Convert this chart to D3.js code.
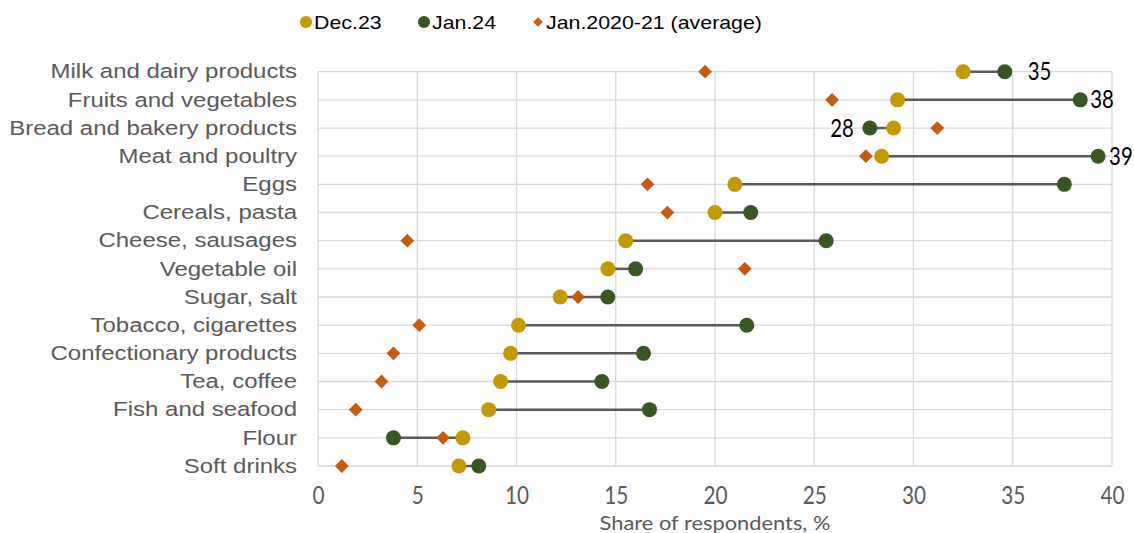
<!DOCTYPE html>
<html>
<head>
<meta charset="utf-8">
<script src="https://cdn.jsdelivr.net/npm/d3@7"></script>
<style>
  body { margin: 0; background: #fff; }
  svg { display: block; }
</style>
</head>
<body>
<div id="chartDiv"></div>
<script>
// categories top to bottom
const categories = ["Milk and dairy products", "Fruits and vegetables", "Bread and bakery products",
  "Meat and poultry", "Eggs", "Cereals, pasta", "Cheese, sausages", "Vegetable oil", "Sugar, salt",
  "Tobacco, cigarettes", "Confectionary products", "Tea, coffee", "Fish and seafood", "Flour", "Soft drinks"];
const dec23 = [32.5, 29.2, 29.0, 28.4, 21.0, 20.0, 15.5, 14.6, 12.2, 10.1, 9.7, 9.2, 8.6, 7.3, 7.1];
const jan24 = [34.6, 38.4, 27.8, 39.3, 37.6, 21.8, 25.6, 16.0, 14.6, 21.6, 16.4, 14.3, 16.7, 3.8, 8.1];
const avg2021 = [19.5, 25.9, 31.2, 27.6, 16.6, 17.6, 4.5, 21.5, 13.1, 5.1, 3.8, 3.2, 1.9, 6.3, 1.2];
// labels shown next to some Jan.24 points: [index, text]
const valueLabels = [[0, "35"], [1, "38"], [2, "28"], [3, "39"]];
const xTicks = [0, 5, 10, 15, 20, 25, 30, 35, 40];
const seriesNames = ["Dec.23", "Jan.24", "Jan.2020-21 (average)"];

const clrDec = "#C49800", clrJan = "#375623", clrAvg = "#C55A11";
// horizontal offset of each value label from its point (px), negative = left side
const labelOffsets = [23, 10, -16, 11];

const W = 1134, H = 533;
const margin = {left: 318, right: 22, top: 71.7, bottom: 67};
const stretch = 1.23;   // label text in the original is drawn a bit wide
const narrow = 0.83;    // numbers are drawn tall and narrow

const svg = d3.select("#chartDiv").append("svg")
  .attr("width", W).attr("height", H);

const x = d3.scaleLinear().domain([0, 40]).range([margin.left, W - margin.right]);
const y = d3.scalePoint().domain(categories).range([margin.top, H - margin.bottom]);

// gridlines
const grid = svg.append("g").attr("class", "grid");
grid.selectAll("line.v").data(xTicks).enter().append("line")
  .attr("x1", d => x(d)).attr("x2", d => x(d))
  .attr("y1", margin.top).attr("y2", H - margin.bottom)
  .attr("stroke", "#d9d9d9").attr("stroke-width", 1.3);
grid.selectAll("line.h").data(categories).enter().append("line")
  .attr("x1", x(0)).attr("x2", x(40))
  .attr("y1", d => y(d)).attr("y2", d => y(d))
  .attr("stroke", "#d9d9d9").attr("stroke-width", 1.3);

// x axis
const xAxis = svg.append("g")
  .attr("transform", `translate(0,${H - margin.bottom})`)
  .call(d3.axisBottom(x).tickValues(xTicks).tickSize(0).tickPadding(20));
xAxis.select(".domain").remove();
xAxis.selectAll("text")
  .attr("transform", `scale(${narrow},1)`)
  .attr("font-family", "Lato, 'Open Sans', sans-serif")
  .attr("font-size", 25).attr("fill", "#595959");

svg.append("text")
  .attr("transform", `translate(${x(20)},530) scale(1.15,1)`)
  .attr("text-anchor", "middle")
  .attr("font-family", "Lato, 'Open Sans', sans-serif")
  .attr("font-size", 19).attr("fill", "#595959")
  .text("Share of respondents, %");

// y axis labels
const yAxis = svg.append("g")
  .attr("transform", `translate(${margin.left},0)`)
  .call(d3.axisLeft(y).tickSize(0).tickPadding(21));
yAxis.select(".domain").remove();
yAxis.selectAll("text")
  .attr("x", -21 / stretch)
  .attr("transform", `scale(${stretch},1)`)
  .attr("font-family", "'Liberation Sans', Arial, sans-serif")
  .attr("font-size", 19.5).attr("fill", "#595959");

// connectors
const rows = categories.map((c, i) => ({cat: c, dec: dec23[i], jan: jan24[i], avg: avg2021[i]}));
svg.append("g").selectAll("line").data(rows).enter().append("line")
  .attr("x1", d => x(d.dec)).attr("x2", d => x(d.jan))
  .attr("y1", d => y(d.cat)).attr("y2", d => y(d.cat))
  .attr("stroke", "#595959").attr("stroke-width", 2.5);

// average diamonds
const diamond = d3.symbol().type(d3.symbolSquare).size(95);
svg.append("g").selectAll("path").data(rows).enter().append("path")
  .attr("d", diamond)
  .attr("transform", d => `translate(${x(d.avg)},${y(d.cat)}) rotate(45)`)
  .attr("fill", clrAvg);

// Dec.23 and Jan.24 dots
svg.append("g").selectAll("circle").data(rows).enter().append("circle")
  .attr("cx", d => x(d.dec)).attr("cy", d => y(d.cat)).attr("r", 7.5)
  .attr("fill", clrDec);
svg.append("g").selectAll("circle").data(rows).enter().append("circle")
  .attr("cx", d => x(d.jan)).attr("cy", d => y(d.cat)).attr("r", 7.5)
  .attr("fill", clrJan);

// value labels
svg.append("g").selectAll("text").data(valueLabels).enter().append("text")
  .attr("transform", (d, i) =>
    `translate(${x(jan24[d[0]]) + labelOffsets[i]},${y(categories[d[0]]) + 8.5}) scale(${narrow},1)`)
  .attr("text-anchor", (d, i) => labelOffsets[i] > 0 ? "start" : "end")
  .attr("font-family", "Lato, 'Open Sans', sans-serif")
  .attr("font-size", 24.5).attr("fill", "#000")
  .text(d => d[1]);

// legend
const legend = svg.append("g").attr("transform", "translate(0,22)");
const legendX = [306, 424, 538];
const legendClr = [clrDec, clrJan, clrAvg];
seriesNames.forEach((name, i) => {
  const g = legend.append("g").attr("transform", `translate(${legendX[i]},0)`);
  if (i < 2) {
    g.append("circle").attr("r", 6).attr("fill", legendClr[i]);
  } else {
    g.append("path").attr("d", d3.symbol().type(d3.symbolSquare).size(45))
      .attr("transform", "rotate(45)").attr("fill", legendClr[i]);
  }
  g.append("text")
    .attr("transform", "translate(8,6.5) scale(1.22,1)")
    .attr("font-family", "'Liberation Sans', Arial, sans-serif")
    .attr("font-size", 17.5).attr("fill", "#000")
    .text(name);
});
</script>
</body>
</html>
